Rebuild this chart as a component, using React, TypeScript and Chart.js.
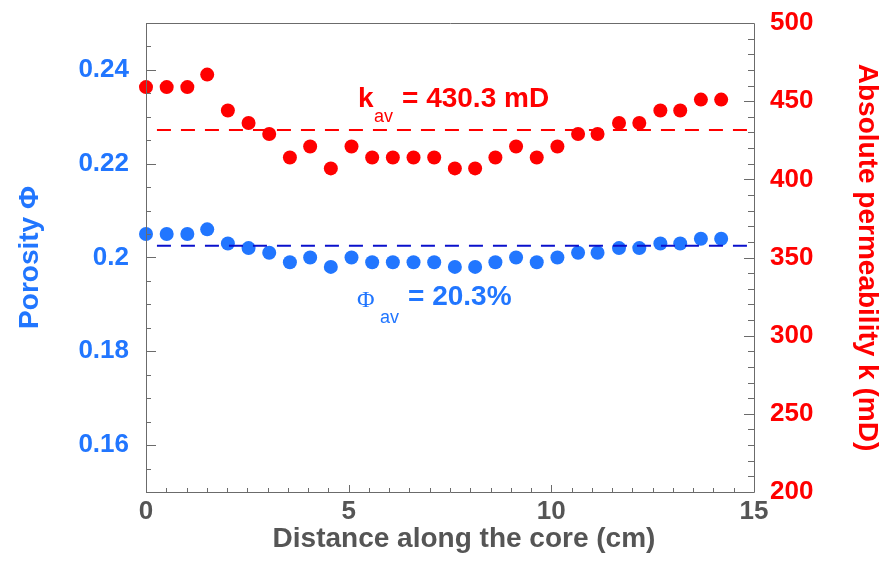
import React, { useEffect, useRef } from "react";
import { Chart, registerables } from "chart.js";

Chart.register(...registerables);

// Distance along the core (cm)
const distance = [
  0, 0.51, 1.02, 1.51, 2.02, 2.53, 3.04, 3.55, 4.05, 4.56, 5.07, 5.58, 6.09, 6.6,
  7.11, 7.62, 8.12, 8.62, 9.13, 9.64, 10.15, 10.66, 11.14, 11.67, 12.17, 12.69,
  13.18, 13.69, 14.19,
];
// Porosity (fraction)
const porosity = [
  0.205, 0.205, 0.205, 0.206, 0.203, 0.202, 0.201, 0.199, 0.2, 0.198, 0.2, 0.199,
  0.199, 0.199, 0.199, 0.198, 0.198, 0.199, 0.2, 0.199, 0.2, 0.201, 0.201, 0.202,
  0.202, 0.203, 0.203, 0.204, 0.204,
];
// Absolute permeability (mD)
const permeability = [
  459, 459, 459, 467, 444, 436, 429, 414, 421, 407, 421, 414, 414, 414, 414, 407,
  407, 414, 421, 414, 421, 429, 429, 436, 436, 444, 444, 451, 451,
];
// Average lines
const avgLineX = [0.27, 15];
const porosityAvgLine = [0.2025, 0.2025];
const permeabilityAvgLine = [431.5, 431.5];
const porosityAvgText = "= 20.3%";
const permeabilityAvgText = "= 430.3 mD";

const xTickLabels = [0, 5, 10, 15];
const porosityTickLabels = [0.16, 0.18, 0.2, 0.22, 0.24];
const permTickLabels = [200, 250, 300, 350, 400, 450, 500];

const BLUE = "#2176FF";
const DARK_BLUE = "#0A10CC";
const RED = "#FF0000";
const GRAY = "#555555";
const AXIS = "#6b6b6b";
const FONT = '"Liberation Sans", Arial, sans-serif';

const near = (v: number, step: number) => Math.abs(v / step - Math.round(v / step)) < 1e-6;
const inList = (v: number, list: number[]) => list.some((l) => Math.abs(l - v) < 1e-9);

const framePlugin = {
  id: "frame",
  afterDatasetsDraw(chart: any) {
    const { ctx, chartArea } = chart;
    const { left, right, top, bottom } = chartArea;
    const xs = chart.scales.x;
    const ys = chart.scales.y;
    const y1 = chart.scales.y1;
    ctx.save();
    ctx.strokeStyle = AXIS;
    ctx.lineWidth = 1;
    ctx.beginPath();
    ctx.rect(left + 0.5, top + 0.5, right - left, bottom - top);
    ctx.stroke();
    ctx.beginPath();
    for (const t of xs.ticks) {
      const p = Math.round(xs.getPixelForValue(t.value)) + 0.5;
      const len = near(t.value, 5) ? 7 : 4;
      ctx.moveTo(p, bottom);
      ctx.lineTo(p, bottom - len);
    }
    for (const t of ys.ticks) {
      const p = Math.round(ys.getPixelForValue(t.value)) + 0.5;
      const len = near(t.value, 0.02) ? 10 : 5;
      ctx.moveTo(left, p);
      ctx.lineTo(left + len, p);
    }
    for (const t of y1.ticks) {
      const p = Math.round(y1.getPixelForValue(t.value)) + 0.5;
      const len = near(t.value, 50) ? 10 : 6;
      ctx.moveTo(right, p);
      ctx.lineTo(right - len, p);
    }
    ctx.stroke();

    // x axis title
    ctx.fillStyle = GRAY;
    ctx.font = `bold 28px ${FONT}`;
    ctx.textAlign = "center";
    ctx.textBaseline = "alphabetic";
    ctx.fillText("Distance along the core (cm)", 464, 547);

    // k_av annotation
    ctx.textAlign = "left";
    ctx.fillStyle = RED;
    ctx.font = `bold 28px ${FONT}`;
    ctx.fillText("k", 358, 107);
    ctx.font = `18px ${FONT}`;
    ctx.fillText("av", 374, 122);
    ctx.font = `bold 28px ${FONT}`;
    ctx.fillText(permeabilityAvgText, 402, 107);

    // Phi_av annotation
    ctx.fillStyle = BLUE;
    ctx.font = `24px "Liberation Serif", "DejaVu Serif", serif`;
    ctx.fillText("Φ", 357, 307);
    ctx.font = `18px ${FONT}`;
    ctx.fillText("av", 380, 323);
    ctx.font = `bold 28px ${FONT}`;
    ctx.fillText(porosityAvgText, 408, 305);
    ctx.restore();
  },
};

export default function App() {
  const ref = useRef<HTMLCanvasElement | null>(null);
  useEffect(() => {
    if (!ref.current) return;
    const chart = new Chart(ref.current, {
      type: "scatter",
      data: {
        datasets: [
          {
            label: "Porosity",
            data: distance.map((x, i) => ({ x, y: porosity[i] })),
            yAxisID: "y",
            backgroundColor: BLUE,
            borderWidth: 0,
            pointRadius: 7,
            clip: false,
            order: 3,
          } as any,
          {
            label: "Permeability",
            data: distance.map((x, i) => ({ x, y: permeability[i] })),
            yAxisID: "y1",
            backgroundColor: RED,
            borderWidth: 0,
            pointRadius: 7,
            clip: false,
            order: 4,
          } as any,
          {
            type: "line",
            label: "Porosity average",
            data: avgLineX.map((x, i) => ({ x, y: porosityAvgLine[i] })),
            yAxisID: "y",
            borderColor: DARK_BLUE,
            borderWidth: 2,
            borderDash: [14, 10],
            pointRadius: 0,
            fill: false,
            order: 1,
          } as any,
          {
            type: "line",
            label: "Permeability average",
            data: avgLineX.map((x, i) => ({ x, y: permeabilityAvgLine[i] })),
            yAxisID: "y1",
            borderColor: RED,
            borderWidth: 2,
            borderDash: [14, 10],
            pointRadius: 0,
            fill: false,
            order: 2,
          } as any,
        ],
      },
      options: {
        responsive: false,
        animation: false,
        layout: { padding: { top: 23, left: 0, right: 0, bottom: 0 } },
        plugins: { legend: { display: false }, tooltip: { enabled: false } },
        scales: {
          x: {
            type: "linear",
            position: "bottom",
            min: 0,
            max: 15,
            grid: { display: false, drawTicks: false },
            border: { display: false },
            ticks: {
              stepSize: 0.5,
              autoSkip: false,
              maxRotation: 0,
              padding: 4,
              color: GRAY,
              font: { family: FONT, size: 26, weight: "bold" },
              callback: (v: any) => (inList(Number(v), xTickLabels) ? String(Math.round(Number(v))) : ""),
            },
            afterFit: (s: any) => {
              s.height = 74;
              s.paddingLeft = 0;
              s.paddingRight = 0;
            },
          },
          y: {
            type: "linear",
            position: "left",
            min: 0.15,
            max: 0.25,
            grid: { display: false, drawTicks: false },
            border: { display: false },
            ticks: {
              stepSize: 0.005,
              autoSkip: false,
              padding: 17,
              color: BLUE,
              font: { family: FONT, size: 26, weight: "bold" },
              callback: (v: any) =>
                inList(Number(v), porosityTickLabels) ? String(Math.round(Number(v) * 100) / 100) : "",
            },
            title: {
              display: true,
              text: "Porosity Φ",
              color: BLUE,
              font: { family: FONT, size: 28, weight: "bold" },
              padding: { top: 13, bottom: 0 },
            },
            afterFit: (s: any) => {
              s.width = 146;
              s.paddingTop = 0;
              s.paddingBottom = 0;
            },
          },
          y1: {
            type: "linear",
            position: "right",
            min: 200,
            max: 500,
            grid: { display: false, drawTicks: false },
            border: { display: false },
            ticks: {
              stepSize: 10,
              autoSkip: false,
              padding: 16,
              color: RED,
              font: { family: FONT, size: 26, weight: "bold" },
              callback: (v: any) => (inList(Number(v), permTickLabels) ? String(Math.round(Number(v))) : ""),
            },
            title: {
              display: true,
              text: "Absolute permeability k (mD)",
              color: RED,
              font: { family: FONT, size: 28, weight: "bold" },
              padding: { top: 9.5, bottom: 0 },
            },
            afterFit: (s: any) => {
              s.width = 139;
              s.paddingTop = 0;
              s.paddingBottom = 0;
            },
          },
        },
      } as any,
      plugins: [framePlugin],
    });
    return () => chart.destroy();
  }, []);
  return (
    <div style={{ position: "absolute", left: 0, top: 0, width: 893, height: 566, background: "#fff" }}>
      <canvas ref={ref} width={893} height={566} style={{ display: "block" }} />
    </div>
  );
}
